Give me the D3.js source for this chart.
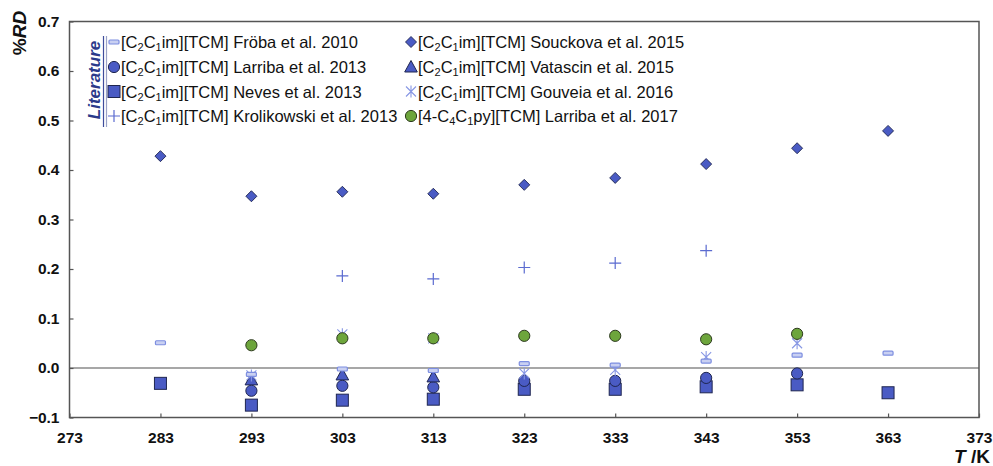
<!DOCTYPE html>
<html>
<head>
<meta charset="utf-8">
<script src="https://cdn.jsdelivr.net/npm/d3@7/dist/d3.min.js"></script>
<style>
  html, body { margin: 0; padding: 0; background: #fff; }
  svg { display: block; font-family: "Liberation Sans", Arial, sans-serif; }
</style>
</head>
<body>
<svg id="chart" width="993" height="466"></svg>
<script>
// Temperatures (K) and %RD deviations for each literature source
const temps = [283, 293, 303, 313, 323, 333, 343, 353, 363];

const froba2010     = [[283, 0.051], [293, -0.013], [303, -0.002], [313, -0.005], [323, 0.009], [333, 0.006], [343, 0.014], [353, 0.026], [363, 0.030]];
const larriba2013   = [[293, -0.046], [303, -0.036], [313, -0.039], [323, -0.026], [333, -0.026], [343, -0.020], [353, -0.011]];
const neves2013     = [[283, -0.031], [293, -0.075], [303, -0.065], [313, -0.063], [323, -0.043], [333, -0.043], [343, -0.038], [353, -0.034], [363, -0.050]];
const krolikowski2013 = [[303, 0.186], [313, 0.180], [323, 0.203], [333, 0.212], [343, 0.237]];
const souckova2015  = [[283, 0.428], [293, 0.347], [303, 0.356], [313, 0.352], [323, 0.370], [333, 0.384], [343, 0.412], [353, 0.444], [363, 0.479]];
const vatascin2015  = [[293, -0.024], [303, -0.014], [313, -0.018]];
const gouveia2016   = [[293, -0.015], [303, 0.068], [313, 0.060], [323, -0.011], [333, -0.004], [343, 0.022], [353, 0.050]];
const larriba2017   = [[293, 0.046], [303, 0.060], [313, 0.060], [323, 0.065], [333, 0.065], [343, 0.058], [353, 0.069]];

const xTicks = [273, 283, 293, 303, 313, 323, 333, 343, 353, 363, 373];
const yTicks = [-0.1, 0.0, 0.1, 0.2, 0.3, 0.4, 0.5, 0.6, 0.7];

const svg = d3.select("#chart");
const L = 69.5, R = 979, T = 21.5, B = 417.5;

const x = d3.scaleLinear().domain([273, 373]).range([L, R]);
const y = d3.scaleLinear().domain([-0.1, 0.7]).range([B, T]);

const BLUE = "#4a5bc4", EDGE = "#1f2650", GREEN = "#6da53c", LIGHT = "#7d8ee0";

// zero reference line
svg.append("line")
  .attr("x1", L).attr("x2", R).attr("y1", y(0)).attr("y2", y(0))
  .attr("stroke", "#8a8a8a").attr("stroke-width", 1.3);

// axes with inward ticks
const yAxis = d3.axisLeft(y).tickValues(yTicks).tickSize(-4).tickPadding(10)
  .tickFormat(d3.format(".1f"));
const xAxis = d3.axisBottom(x).tickValues(xTicks).tickSize(-4).tickPadding(14)
  .tickFormat(d3.format("d"));

const gy = svg.append("g").attr("transform", `translate(${L},0)`).call(yAxis);
const gx = svg.append("g").attr("transform", `translate(0,${B})`).call(xAxis);
[gy, gx].forEach(g => {
  g.select(".domain").remove();
  g.selectAll(".tick line").attr("stroke", "#555").attr("stroke-width", 1.2);
  g.selectAll(".tick text").attr("fill", "#111").attr("font-size", 15.5)
    .attr("font-weight", "bold").attr("font-family", "'Liberation Sans', Arial, sans-serif");
});

// frame
svg.append("rect").attr("x", L).attr("y", T).attr("width", R - L).attr("height", B - T)
  .attr("fill", "none").attr("stroke", "#555").attr("stroke-width", 1.5);

// axis titles
const yt = svg.append("text").attr("transform", "translate(26,33) rotate(-90)")
  .attr("text-anchor", "middle").attr("font-size", 19).attr("font-weight", "bold").attr("fill", "#111");
yt.append("tspan").text("%");
yt.append("tspan").attr("font-style", "italic").text("RD");

const xt = svg.append("text").attr("x", 990).attr("y", 463).attr("text-anchor", "end")
  .attr("font-size", 19).attr("font-weight", "bold").attr("fill", "#111");
xt.append("tspan").attr("font-style", "italic").text("T");
xt.append("tspan").text(" /K");

// marker painters
const markers = {
  froba: (g) => g.append("rect").attr("x", -5).attr("y", -2).attr("width", 10).attr("height", 4).attr("rx", 1)
    .attr("fill", "#c9d0f2").attr("stroke", LIGHT).attr("stroke-width", 1.2),
  circle: (g) => g.append("circle").attr("r", 5.6).attr("fill", BLUE).attr("stroke", EDGE).attr("stroke-width", 1),
  square: (g) => g.append("rect").attr("x", -6).attr("y", -6).attr("width", 12).attr("height", 12)
    .attr("fill", BLUE).attr("stroke", EDGE).attr("stroke-width", 1),
  plus: (g) => g.append("path").attr("d", "M-6,0H6M0,-6V6").attr("stroke", "#5b6bd0").attr("stroke-width", 1.2).attr("fill", "none"),
  diamond: (g) => g.append("path").attr("d", "M0,-5.5L5.5,0L0,5.5L-5.5,0Z").attr("fill", BLUE).attr("stroke", EDGE).attr("stroke-width", 0.9),
  triangle: (g) => g.append("path").attr("d", "M0,-6.5L6.3,5L-6.3,5Z").attr("fill", BLUE).attr("stroke", EDGE).attr("stroke-width", 1),
  star: (g) => g.append("path").attr("d", "M-5,-5L5,5M-5,5L5,-5M0,-6V6").attr("stroke", "#8797e4").attr("stroke-width", 1.1).attr("fill", "none"),
  green: (g) => g.append("circle").attr("r", 5.6).attr("fill", GREEN).attr("stroke", "#2d3a1e").attr("stroke-width", 1)
};

function plotSeries(data, kind) {
  const g = svg.append("g");
  data.forEach(([t, v]) => {
    const m = g.append("g").attr("transform", `translate(${x(t)},${y(v)})`);
    markers[kind](m);
  });
}

plotSeries(souckova2015, "diamond");
plotSeries(krolikowski2013, "plus");
plotSeries(neves2013, "square");
plotSeries(larriba2013, "circle");
plotSeries(vatascin2015, "triangle");
plotSeries(gouveia2016, "star");
plotSeries(froba2010, "froba");
plotSeries(larriba2017, "green");

// legend
const legendItems = [
  { kind: "froba",    col: 0, row: 0, pre: "[C", s1: "2", mid: "C", s2: "1", post: "im][TCM] Fröba et al. 2010" },
  { kind: "circle",   col: 0, row: 1, pre: "[C", s1: "2", mid: "C", s2: "1", post: "im][TCM] Larriba et al. 2013" },
  { kind: "square",   col: 0, row: 2, pre: "[C", s1: "2", mid: "C", s2: "1", post: "im][TCM] Neves et al. 2013" },
  { kind: "plus",     col: 0, row: 3, pre: "[C", s1: "2", mid: "C", s2: "1", post: "im][TCM] Krolikowski et al. 2013" },
  { kind: "diamond",  col: 1, row: 0, pre: "[C", s1: "2", mid: "C", s2: "1", post: "im][TCM] Souckova et al. 2015" },
  { kind: "triangle", col: 1, row: 1, pre: "[C", s1: "2", mid: "C", s2: "1", post: "im][TCM] Vatascin et al. 2015" },
  { kind: "star",     col: 1, row: 2, pre: "[C", s1: "2", mid: "C", s2: "1", post: "im][TCM] Gouveia et al. 2016" },
  { kind: "green",    col: 1, row: 3, pre: "[4-C", s1: "4", mid: "C", s2: "1", post: "py][TCM] Larriba et al. 2017" }
];
const colX = [114, 411], rowY = [42, 67, 91.5, 116];

const lg = svg.append("g");
legendItems.forEach(it => {
  const cx = colX[it.col], cy = rowY[it.row];
  const m = lg.append("g").attr("transform", `translate(${cx},${cy})`);
  markers[it.kind](m);
  const t = lg.append("text").attr("x", cx + 7).attr("y", cy + 6)
    .attr("font-size", 16.5).attr("fill", "#111");
  t.append("tspan").text(it.pre);
  t.append("tspan").attr("font-size", 11).attr("dy", 3).text(it.s1);
  t.append("tspan").attr("dy", -3).text(it.mid);
  t.append("tspan").attr("font-size", 11).attr("dy", 3).text(it.s2);
  t.append("tspan").attr("dy", -3).text(it.post);
});

// "Literature" bracket label
lg.append("text").attr("transform", "translate(100,80) rotate(-90)")
  .attr("text-anchor", "middle").attr("font-size", 17).attr("font-weight", "bold")
  .attr("font-style", "italic").attr("fill", "#2b3a8a").text("Literature");
lg.append("line").attr("x1", 103.5).attr("x2", 103.5).attr("y1", 36).attr("y2", 127)
  .attr("stroke", "#3e4d9c").attr("stroke-width", 1.2);
lg.append("line").attr("x1", 106.5).attr("x2", 106.5).attr("y1", 36).attr("y2", 127)
  .attr("stroke", "#9aa3c8").attr("stroke-width", 1.2);
</script>
</body>
</html>
